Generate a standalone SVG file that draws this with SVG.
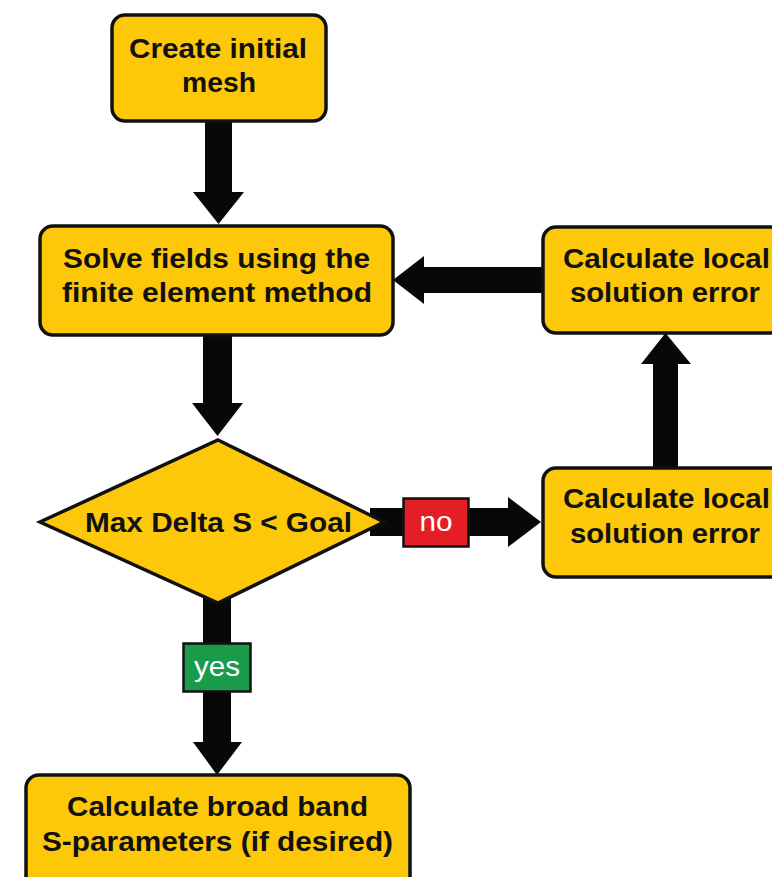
<svg xmlns="http://www.w3.org/2000/svg" width="772" height="877" viewBox="0 0 772 877">
<style>
.box{fill:#FDC80A;stroke:#111;stroke-width:3.5}
.t{font-family:"Liberation Sans",Arial,sans-serif;font-weight:bold;font-size:28px;fill:#111;text-anchor:middle}
.lbl{font-family:"Liberation Sans",Arial,sans-serif;font-size:28px;fill:#fff;text-anchor:middle}
.arr{fill:#080808}
</style>
<rect width="772" height="877" fill="#fff"/>
<g id="connectors">
<polygon class="arr" points="205,121 232,121 232,192 244,192 218.5,224 193,192 205,192"/>
<polygon class="arr" points="203,335 232,335 232,403 243,403 217.5,436 192,403 203,403"/>
<polygon class="arr" points="203,590 231,590 231,742 242,742 217,775 193,742 203,742"/>
<polygon class="arr" points="370,508 508,508 508,497 541,522 508,547 508,536 370,536"/>
<polygon class="arr" points="653,470 678,470 678,364 691,364 665.5,333 641,364 653,364"/>
<polygon class="arr" points="545,267 424,267 424,256 393,280 424,304 424,293 545,293"/>
<g id="label-no">
<rect x="403.5" y="498.5" width="65" height="48" fill="#E41E25" stroke="#111" stroke-width="2.5"/>
<text class="lbl" x="436" y="531" textLength="33" lengthAdjust="spacingAndGlyphs">no</text>
</g>
<g id="label-yes">
<rect x="183.5" y="643.5" width="67" height="48" fill="#1A9A4B" stroke="#111" stroke-width="2.5"/>
<text class="lbl" x="217" y="676" textLength="46" lengthAdjust="spacingAndGlyphs">yes</text>
</g>
</g>
<g id="create-mesh">
<rect class="box" x="112" y="15" width="214" height="106" rx="13"/>
<text class="t" x="218" y="58" textLength="178" lengthAdjust="spacingAndGlyphs">Create initial</text>
<text class="t" x="219" y="92" textLength="74" lengthAdjust="spacingAndGlyphs">mesh</text>
</g>
<g id="solve-fields">
<rect class="box" x="40" y="226" width="353" height="109" rx="13"/>
<text class="t" x="216.5" y="268" textLength="307" lengthAdjust="spacingAndGlyphs">Solve fields using the</text>
<text class="t" x="217" y="302" textLength="310" lengthAdjust="spacingAndGlyphs">finite element method</text>
</g>
<g id="calc-error-top">
<rect class="box" x="543" y="227" width="250" height="106" rx="13"/>
<text class="t" x="666.5" y="268" textLength="207" lengthAdjust="spacingAndGlyphs">Calculate local</text>
<text class="t" x="665" y="302" textLength="190" lengthAdjust="spacingAndGlyphs">solution error</text>
</g>
<g id="decision">
<polygon class="box" points="218,440 384,522 218,603 40,522"/>
<text class="t" x="218.5" y="532" textLength="267" lengthAdjust="spacingAndGlyphs">Max Delta S &lt; Goal</text>
</g>
<g id="calc-error-bottom">
<rect class="box" x="543" y="468" width="250" height="109" rx="13"/>
<text class="t" x="666.5" y="508" textLength="207" lengthAdjust="spacingAndGlyphs">Calculate local</text>
<text class="t" x="665" y="543" textLength="190" lengthAdjust="spacingAndGlyphs">solution error</text>
</g>
<g id="calc-sparams">
<rect class="box" x="26" y="775" width="384" height="120" rx="13"/>
<text class="t" x="217.5" y="816" textLength="301" lengthAdjust="spacingAndGlyphs">Calculate broad band</text>
<text class="t" x="217.5" y="851" textLength="351" lengthAdjust="spacingAndGlyphs">S-parameters (if desired)</text>
</g>
</svg>
